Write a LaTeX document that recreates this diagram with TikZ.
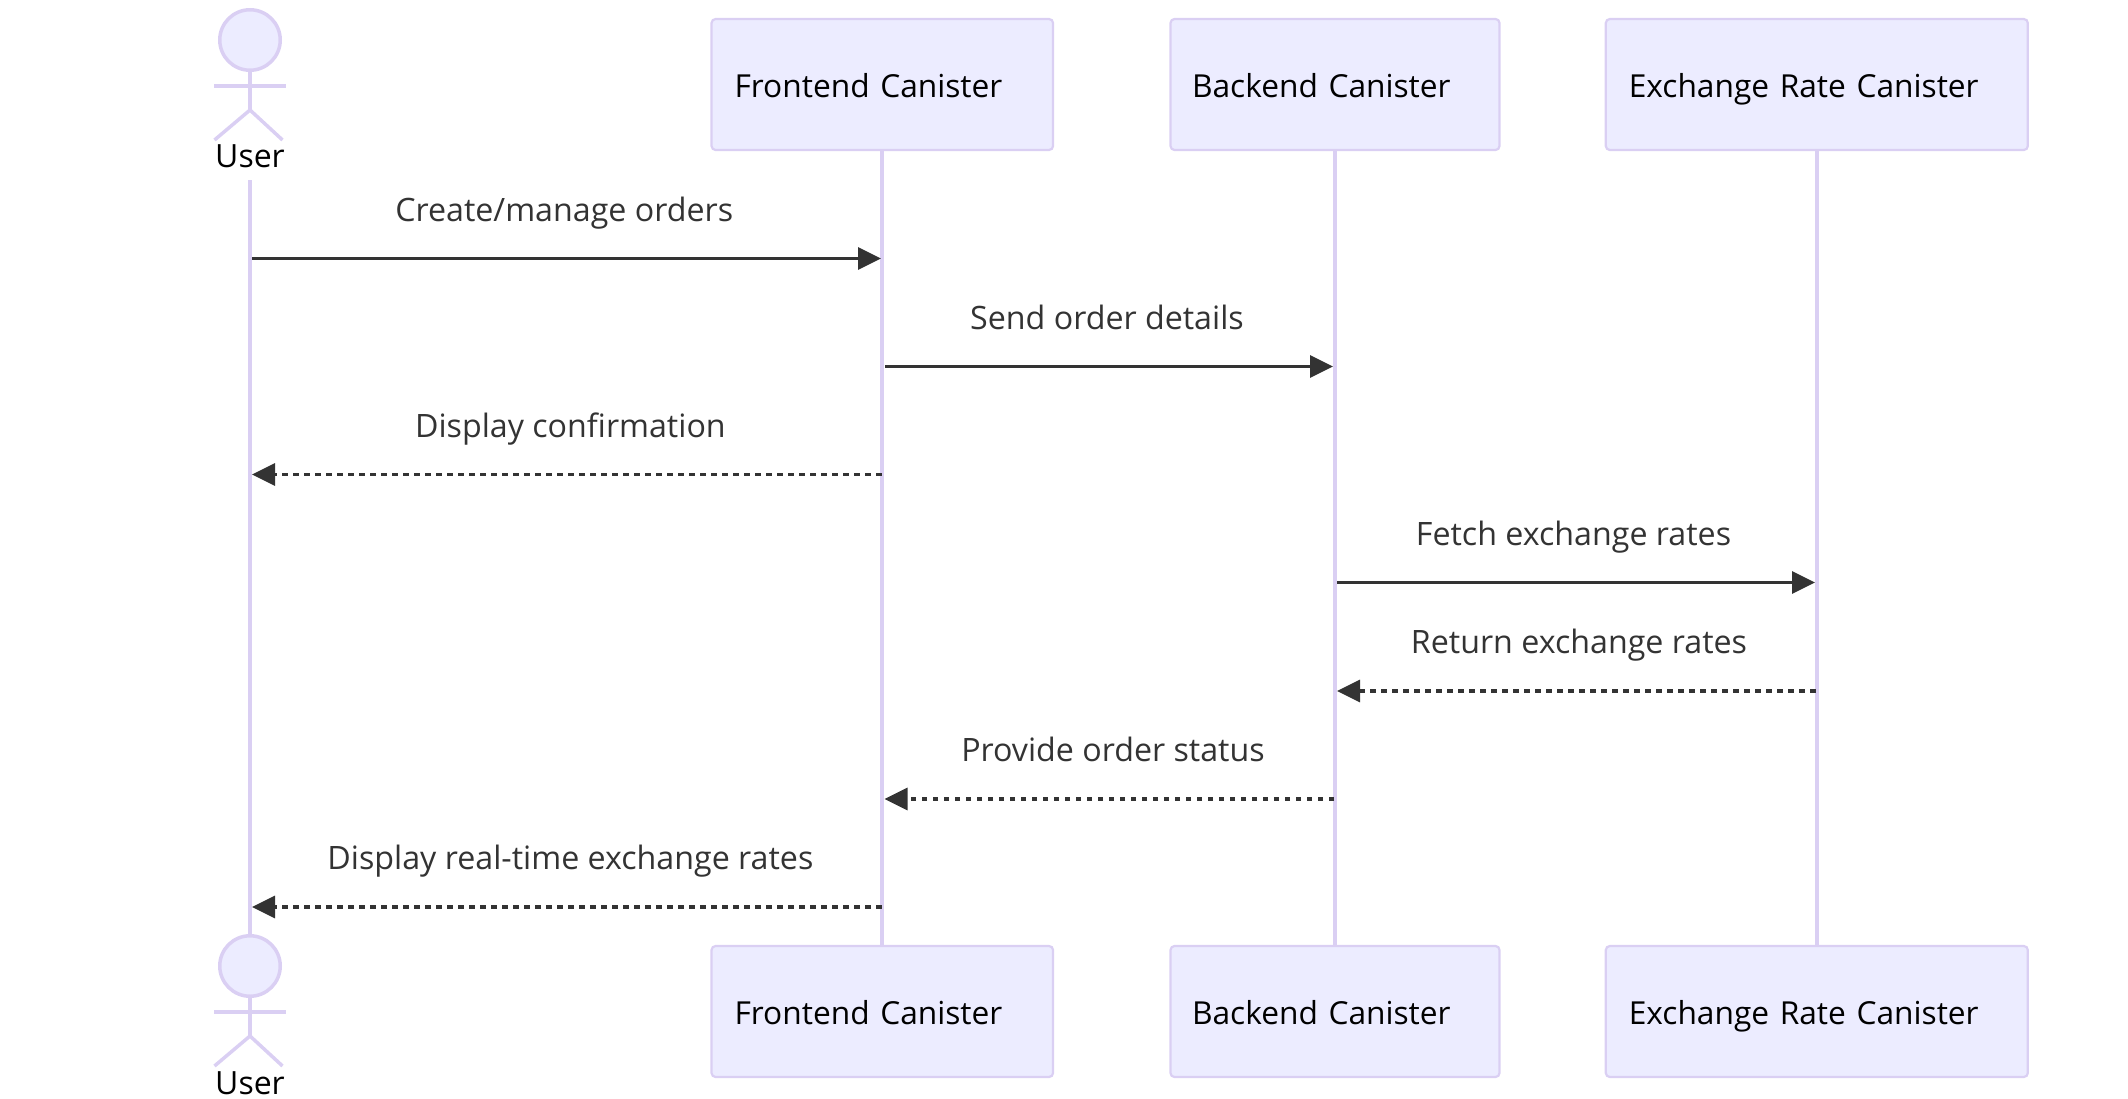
\documentclass[tikz,border=0pt]{standalone}
\usepackage{fontspec}
\setmainfont{Open Sans}
\usetikzlibrary{arrows.meta}
\definecolor{lav}{HTML}{DACFF3}
\definecolor{boxfill}{HTML}{ECECFF}
\definecolor{ink}{HTML}{333333}
\tikzset{
  box/.style={draw=lav, line width=2.2, fill=boxfill, rounded corners=4, minimum height=131, inner ysep=0,
    inner xsep=23, text width=#1, text height=31, text depth=5.4, align=left, text=black,
    font=\fontsize{31.7}{38}\selectfont},
  life/.style={draw=lav, line width=4},
  stick/.style={draw=lav, line width=3.5},
  who/.style={anchor=base, text=black, inner sep=0, font=\fontsize{32}{38}\selectfont},
  msg/.style={draw=ink, line width=2.9, -{Triangle[length=23,width=22]}},
  reply/.style={msg, line width=3.05, dash pattern=on 5.5 off 5.5},
  say/.style={anchor=base, text=ink, inner sep=0, font=\fontsize{32.2}{38}\selectfont}
}
\newcommand{\stickman}[3]{
  \node[circle, stick, fill=boxfill, minimum size=60.5, inner sep=0] (#1h) at (250,#2+40) {};
  \coordinate (#1n) at (250,#2+110);
  \coordinate (#1a) at (214,#2+86);
  \coordinate (#1b) at (286,#2+86);
  \coordinate (#1c) at (214.5,#2+140);
  \coordinate (#1d) at (282.5,#2+140);
  \draw[stick] (#1h) -- (#1n);
  \draw[stick] (#1a) -- (#1b);
  \draw[stick] (#1c) -- (#1n) -- (#1d);
  \node[who] (#1l) at (250,#3) {User};
}
\begin{document}
\begin{tikzpicture}[x=1pt,y=-1pt]
\useasboundingbox (0,0) rectangle (2128,1098);
\coordinate (utop) at (250,180);
\coordinate (ubot) at (250,950);
\draw[life] (utop) -- (ubot);
\stickman{ua}{0}{167}
\stickman{ub}{926}{1094}
\node[box=295.5] (fa) at (882.3,84.5) {Frontend Canister};
\node[box=286, inner xsep=21.5] (ba) at (1335,84.5) {Backend Canister};
\node[box=376] (xa) at (1816.8,84.5) {Exchange Rate Canister};
\node[box=295.5] (fb) at (882.3,1011.5) {Frontend Canister};
\node[box=286, inner xsep=21.5] (bb) at (1335,1011.5) {Backend Canister};
\node[box=376] (xb) at (1816.8,1011.5) {Exchange Rate Canister};
\draw[life] (fa.south) -- (fb.north);
\draw[life] (ba.south) -- (bb.north);
\draw[life] (xa.south) -- (xb.north);
\coordinate (u1) at (252,258.5);
\coordinate (f1) at (881,258.5);
\coordinate (f2) at (885,366.5);
\coordinate (b2) at (1333,366.5);
\coordinate (f3) at (881.5,474.5);
\coordinate (u3) at (252,474.5);
\coordinate (b4) at (1337,582.5);
\coordinate (x4) at (1815,582.5);
\coordinate (x5) at (1815.5,691);
\coordinate (b5) at (1337,691);
\coordinate (b6) at (1334,799);
\coordinate (f6) at (884.5,799);
\coordinate (f7) at (881.5,907);
\coordinate (u7) at (252,907);
\draw[msg] (u1) -- (f1);
\draw[msg] (f2) -- (b2);
\draw[reply] (f3) -- (u3);
\draw[msg] (b4) -- (x4);
\draw[reply] (x5) -- (b5);
\draw[reply] (b6) -- (f6);
\draw[reply] (f7) -- (u7);
\node[say] (s1) at (564.2,221.5) {Create/manage orders};
\node[say] (s2) at (1107,329.5) {Send order details};
\node[say] (s3) at (570.4,437.5) {Display confirmation};
\node[say] (s4) at (1573.5,545.5) {Fetch exchange rates};
\node[say] (s5) at (1579,653.5) {Return exchange rates};
\node[say] (s6) at (1113,761.5) {Provide order status};
\node[say] (s7) at (570.4,869.5) {Display real-time exchange rates};
\end{tikzpicture}
\end{document}
